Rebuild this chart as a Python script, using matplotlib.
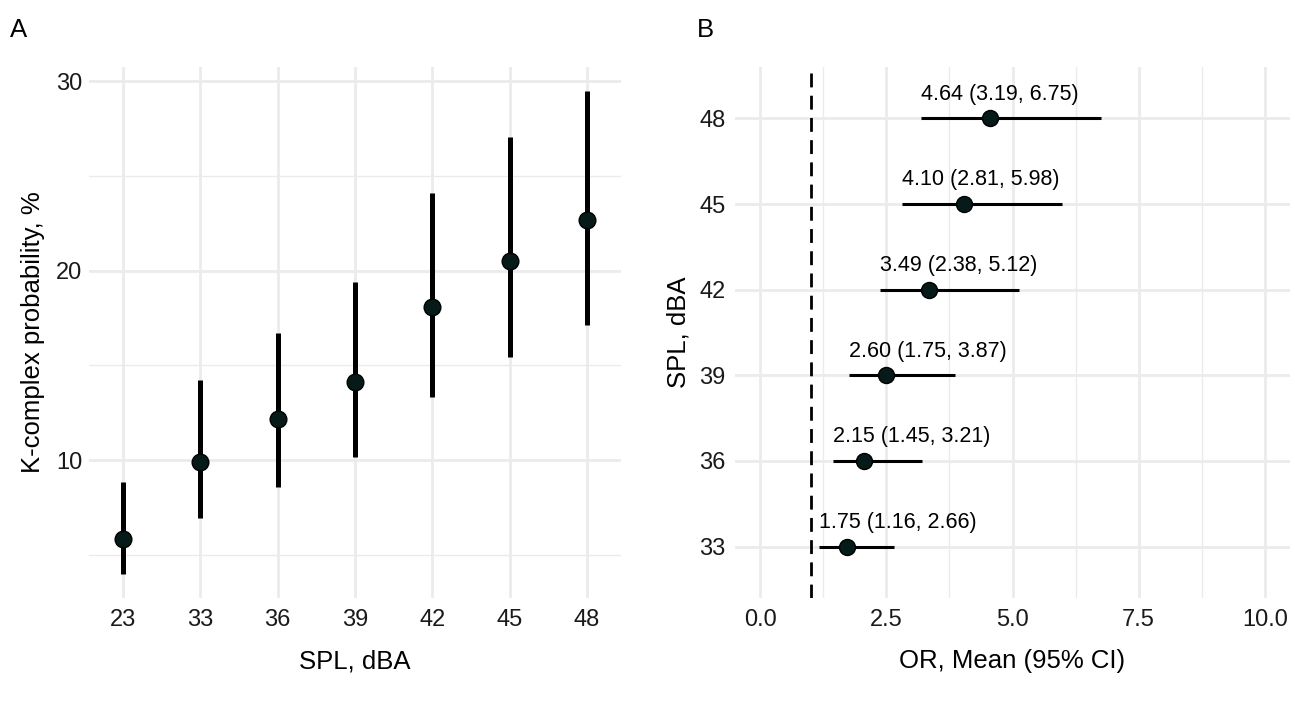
import matplotlib.pyplot as plt
import numpy as np

plt.rcParams['font.family'] = ['Liberation Sans', 'DejaVu Sans']

# Panel A: K-complex probability by SPL
spl_a = ['23', '33', '36', '39', '42', '45', '48']
prob = [5.83, 9.88, 12.15, 14.13, 18.06, 20.49, 22.66]
prob_lo = [3.98, 6.96, 8.56, 10.16, 13.31, 15.42, 17.12]
prob_hi = [8.85, 14.22, 16.69, 19.39, 24.11, 27.07, 29.49]

# Panel B: odds ratios vs 23 dBA
spl_b = ['33', '36', '39', '42', '45', '48']
or_mean = [1.71, 2.05, 2.50, 3.34, 4.04, 4.55]
or_lo = [1.16, 1.45, 1.75, 2.38, 2.81, 3.19]
or_hi = [2.66, 3.21, 3.87, 5.12, 5.98, 6.75]
or_labels = ['1.75 (1.16, 2.66)', '2.15 (1.45, 3.21)', '2.60 (1.75, 3.87)',
             '3.49 (2.38, 5.12)', '4.10 (2.81, 5.98)', '4.64 (3.19, 6.75)']

grid_col = '#EBEBEB'
pt_col = '#061A1A'
W, H = 1295, 706

fig = plt.figure(figsize=(W / 100, H / 100), dpi=100)


def px_axes(x0, x1, y0, y1):
    return fig.add_axes([x0 / W, 1 - y1 / H, (x1 - x0) / W, (y1 - y0) / H])


def clean(ax):
    for s in ax.spines.values():
        s.set_visible(False)
    ax.tick_params(length=0, labelsize=17, colors='#1a1a1a')
    ax.tick_params(axis='x', pad=8)
    ax.tick_params(axis='y', pad=5)
    ax.set_axisbelow(True)


# ---- A ----
ax = px_axes(89, 621, 67, 598)
clean(ax)
xa = np.arange(1, len(spl_a) + 1)
ax.vlines(xa, prob_lo, prob_hi, color='black', lw=3.6, zorder=2)
ax.plot(xa, prob, 'o', ms=12, mfc=pt_col, mec='black', mew=1, zorder=3)
ax.set_xlim(0.56, 7.44)
ax.set_ylim(2.72, 30.75)
ax.set_xticks(xa)
ax.set_xticklabels(spl_a)
ax.set_yticks([10, 20, 30])
ax.set_yticks([5, 15, 25], minor=True)
ax.tick_params(which='minor', length=0)
ax.grid(True, which='major', color=grid_col, lw=2)
ax.grid(True, which='minor', axis='y', color=grid_col, lw=1)
ax.set_xlabel('SPL, dBA', fontsize=18.5, labelpad=13)
ax.set_ylabel('K-complex probability, %', fontsize=18.5, labelpad=8)
fig.text(10 / W, 1 - 30 / H, 'A', fontsize=18.5, va='center', ha='left')

# ---- B ----
bx = px_axes(735, 1290, 67, 598)
clean(bx)
yb = np.arange(1, len(spl_b) + 1)
bx.axvline(1, color='black', lw=2, ls=(0, (5, 3)), zorder=2)
bx.hlines(yb, or_lo, or_hi, color='black', lw=2.2, zorder=2)
bx.plot(or_mean, yb, 'o', ms=11.5, mfc=pt_col, mec='black', mew=1, zorder=3)
for y, lo, lab in zip(yb, or_lo, or_labels):
    bx.text(lo, y + 0.16, lab, fontsize=15.5, ha='left', va='bottom', color='black')
bx.set_xlim(-0.5, 10.5)
bx.set_ylim(0.4, 6.6)
bx.set_xticks([0, 2.5, 5, 7.5, 10])
bx.set_xticklabels(['0.0', '2.5', '5.0', '7.5', '10.0'])
bx.set_xticks([1.25, 3.75, 6.25, 8.75], minor=True)
bx.tick_params(which='minor', length=0)
bx.tick_params(axis='y', pad=7)
bx.set_yticks(yb)
bx.set_yticklabels(spl_b)
bx.grid(True, which='major', color=grid_col, lw=2)
bx.grid(True, which='minor', axis='x', color=grid_col, lw=1)
bx.set_xlabel('OR, Mean (95% CI)', fontsize=18.5, labelpad=13)
bx.set_ylabel('SPL, dBA', fontsize=18.5, labelpad=6)
fig.text(697 / W, 1 - 30 / H, 'B', fontsize=18.5, va='center', ha='left')

fig.savefig('out.png', dpi=100)
